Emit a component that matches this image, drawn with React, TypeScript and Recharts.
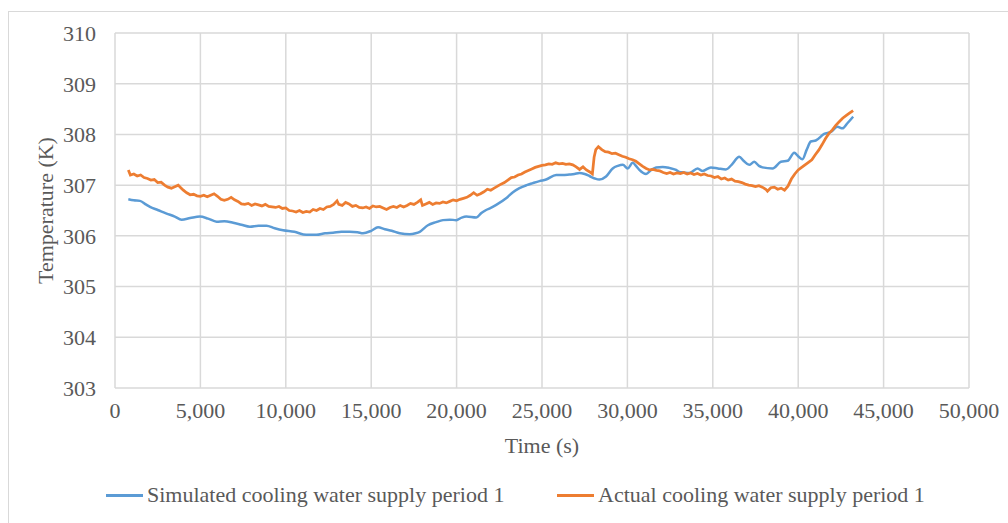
import { LineChart, Line, XAxis, YAxis, CartesianGrid, Legend, Label } from 'recharts';

// Simulated supply temperature (s, K)
const simTime = [
  780, 1100, 1460, 1800, 2050, 2500, 3020, 3500, 3900, 4400, 4970, 5450, 5950, 6400, 6920, 7400, 7900,
  8400, 8870, 9350, 9840, 10500, 11200, 11800, 12300, 12770, 13250, 13740, 14200, 14520, 15000, 15400,
  15800, 16200, 16670, 17250, 17600, 17840, 18320, 18800, 19200, 19600, 19980, 20300, 20570, 21150,
  21450, 21730, 22000, 22320, 22900, 23300, 23680, 24100, 24460, 24850, 25240, 25830, 26200, 26600,
  26900, 27190, 27500, 27780, 28100, 28360, 28750, 29140, 29440, 29730, 30020, 30310, 30500, 30700,
  31090, 31400, 31680, 32070, 32450, 32850, 33040, 33300, 33630, 34110, 34400, 34890, 35300, 35770,
  36100, 36550, 36800, 37130, 37430, 37700, 37910, 38500, 38990, 39380, 39770, 40000, 40250, 40500,
  40740, 41030, 41520, 41910, 42300, 42590, 42880, 43216,
];
const simTemp = [
  306.72, 306.7, 306.69, 306.62, 306.57, 306.51, 306.44, 306.38, 306.32, 306.35, 306.38, 306.34, 306.28,
  306.29, 306.26, 306.22, 306.18, 306.2, 306.2, 306.15, 306.11, 306.08, 306.02, 306.02, 306.05, 306.06,
  306.08, 306.08, 306.07, 306.05, 306.1, 306.17, 306.13, 306.1, 306.05, 306.03, 306.05, 306.08, 306.21,
  306.27, 306.31, 306.32, 306.31, 306.36, 306.38, 306.36, 306.45, 306.51, 306.55, 306.61, 306.74, 306.86,
  306.94, 307.0, 307.04, 307.08, 307.11, 307.2, 307.2, 307.21, 307.22, 307.24, 307.22, 307.18, 307.13,
  307.11, 307.17, 307.33, 307.38, 307.4, 307.33, 307.44, 307.38, 307.3, 307.22, 307.3, 307.35, 307.36,
  307.34, 307.3, 307.26, 307.25, 307.24, 307.33, 307.28, 307.35, 307.33, 307.31, 307.4, 307.56, 307.48,
  307.4, 307.46, 307.38, 307.35, 307.33, 307.46, 307.48, 307.64, 307.57, 307.51, 307.7, 307.86, 307.88,
  308.01, 308.05, 308.15, 308.12, 308.22, 308.35,
];

// Measured supply temperature (s, K)
const actTime = [
  780, 900, 1100, 1300, 1500, 1700, 1900, 2100, 2300, 2500, 2700, 2900, 3100, 3300, 3500, 3700, 3850,
  4000, 4200, 4400, 4600, 4800, 5000, 5200, 5400, 5600, 5800, 6000, 6200, 6400, 6600, 6800, 7000, 7200,
  7400, 7600, 7800, 8000, 8200, 8400, 8600, 8800, 9000, 9200, 9400, 9600, 9800, 10000, 10200, 10400,
  10600, 10800, 11000, 11200, 11400, 11600, 11800, 12000, 12200, 12400, 12600, 12800, 13000, 13100,
  13300, 13500, 13700, 13900, 14100, 14300, 14500, 14700, 14900, 15100, 15300, 15500, 15700, 15900,
  16100, 16300, 16500, 16700, 16900, 17100, 17300, 17500, 17700, 17900, 18000, 18200, 18400, 18600,
  18800, 19000, 19200, 19400, 19600, 19800, 20000, 20200, 20400, 20600, 20800, 21000, 21200, 21400,
  21600, 21800, 22000, 22200, 22400, 22600, 22800, 23000, 23200, 23400, 23600, 23800, 24000, 24200,
  24400, 24600, 24800, 25000, 25200, 25400, 25600, 25800, 26000, 26200, 26400, 26600, 26800, 27000,
  27200, 27400, 27600, 27800, 27950, 28050, 28150, 28300, 28500, 28700, 28900, 29100, 29300, 29500,
  29700, 29900, 30100, 30300, 30500, 30700, 30900, 31100, 31300, 31500, 31700, 31900, 32100, 32300,
  32500, 32700, 32900, 33100, 33300, 33500, 33700, 33900, 34100, 34300, 34500, 34700, 34900, 35100,
  35300, 35500, 35700, 35900, 36100, 36300, 36500, 36700, 36900, 37100, 37300, 37500, 37700, 37900,
  38100, 38200, 38400, 38600, 38800, 39000, 39200, 39400, 39600, 39800, 40000, 40200, 40400, 40600,
  40800, 41000, 41200, 41400, 41600, 41800, 42000, 42200, 42400, 42600, 42800, 43000, 43216,
];
const actTemp = [
  307.3, 307.2, 307.22, 307.18, 307.2, 307.15, 307.13, 307.1, 307.11, 307.05, 307.06, 307.0, 306.96,
  306.94, 306.97, 307.0, 306.95, 306.9, 306.85, 306.81, 306.82, 306.79, 306.78, 306.8, 306.77, 306.8,
  306.83, 306.78, 306.72, 306.7, 306.72, 306.76, 306.71, 306.68, 306.63, 306.62, 306.64, 306.6, 306.63,
  306.61, 306.59, 306.62, 306.58, 306.57, 306.56, 306.58, 306.54, 306.55, 306.5, 306.49, 306.47, 306.5,
  306.46, 306.48, 306.47, 306.52, 306.5, 306.54, 306.52, 306.57, 306.58, 306.62, 306.69, 306.62, 306.6,
  306.66, 306.63, 306.58, 306.6, 306.56, 306.55, 306.57, 306.54, 306.59, 306.57, 306.58, 306.55, 306.52,
  306.56, 306.58, 306.56, 306.6, 306.57, 306.6, 306.64, 306.62, 306.66, 306.71, 306.6, 306.63, 306.66,
  306.62, 306.65, 306.64, 306.67, 306.65, 306.68, 306.71, 306.69, 306.72, 306.74, 306.76, 306.8, 306.85,
  306.8, 306.83, 306.87, 306.92, 306.9, 306.94, 306.98, 307.02, 307.05, 307.1, 307.15, 307.16, 307.2,
  307.22, 307.26, 307.29, 307.32, 307.35, 307.37, 307.39, 307.4, 307.42, 307.41, 307.44, 307.42, 307.43,
  307.41, 307.42, 307.4, 307.36, 307.31, 307.36, 307.3, 307.26, 307.22, 307.55, 307.7, 307.76, 307.7,
  307.66, 307.65, 307.62, 307.63, 307.6, 307.57, 307.55, 307.52, 307.5, 307.47, 307.42, 307.37, 307.33,
  307.3, 307.31, 307.29, 307.28, 307.25, 307.23, 307.25, 307.22, 307.24, 307.23, 307.25, 307.22, 307.24,
  307.21, 307.23, 307.2, 307.22, 307.19, 307.18, 307.15, 307.17, 307.12, 307.14, 307.1, 307.12, 307.08,
  307.07, 307.05, 307.02, 307.0, 306.99, 306.97, 306.99, 306.96, 306.92, 306.88, 306.95, 306.96, 306.92,
  306.94, 306.9, 306.98, 307.12, 307.22, 307.3, 307.35, 307.4, 307.45, 307.5, 307.6, 307.69, 307.8,
  307.92, 308.02, 308.09, 308.18, 308.25, 308.32, 308.37, 308.42, 308.47,
];

const xTicks = [0, 5000, 10000, 15000, 20000, 25000, 30000, 35000, 40000, 45000, 50000];
const yTicks = [303, 304, 305, 306, 307, 308, 309, 310];

const simName = 'Simulated cooling water supply period 1';
const actName = 'Actual cooling water supply period 1';

const simData = simTime.map((t, i) => ({ t, v: simTemp[i] }));
const actData = actTime.map((t, i) => ({ t, v: actTemp[i] }));

const BLUE = '#5B9BD5';
const ORANGE = '#ED7D31';
const FONT = '"Liberation Serif", "Times New Roman", serif';
const TEXT = '#595959';
const FS = 22;

const fmt = (v: number) => v.toLocaleString('en-US');

function ChartLegend() {
  const items = [
    { name: simName, color: BLUE, left: 97 },
    { name: actName, color: ORANGE, left: 548 },
  ];
  return (
    <div style={{ position: 'relative', height: 30, fontFamily: FONT, fontSize: FS, color: TEXT }}>
      {items.map((it) => (
        <div
          key={it.name}
          style={{ position: 'absolute', left: it.left, top: 0, display: 'flex', alignItems: 'center', whiteSpace: 'nowrap' }}
        >
          <span style={{ display: 'inline-block', width: 37, height: 3, background: it.color, marginRight: 4 }} />
          <span>{it.name}</span>
        </div>
      ))}
    </div>
  );
}

export default function App() {
  return (
    <div
      style={{
        position: 'absolute',
        left: 8,
        top: 11,
        width: 1000,
        height: 512,
        boxSizing: 'border-box',
        borderTop: '1px solid #d9d9d9',
        borderLeft: '1px solid #d9d9d9',
        background: '#fff',
      }}
    >
      <LineChart width={999} height={511} margin={{ top: 21, right: 39, left: 0, bottom: 65 }}>
        <CartesianGrid stroke="#d9d9d9" strokeWidth={1.5} />
        <XAxis
          type="number"
          dataKey="t"
          domain={[0, 50000]}
          ticks={xTicks}
          tickFormatter={fmt}
          axisLine={false}
          tickLine={false}
          tickSize={0}
          tickMargin={14}
          height={70}
          tick={{ fill: TEXT, fontSize: FS, fontFamily: FONT }}
        >
          <Label value="Time (s)" position="insideBottom" offset={5} fill={TEXT} fontSize={FS} fontFamily={FONT} />
        </XAxis>
        <YAxis
          type="number"
          dataKey="v"
          domain={[303, 310]}
          ticks={yTicks}
          axisLine={false}
          tickLine={false}
          tickSize={0}
          tickMargin={19}
          width={106}
          tick={{ fill: TEXT, fontSize: FS, fontFamily: FONT }}
          label={{
            content: ({ viewBox }: any) => {
              const cx = 36;
              const cy = viewBox.y + viewBox.height / 2;
              return (
                <text
                  x={cx}
                  y={cy}
                  transform={`rotate(-90 ${cx} ${cy})`}
                  textAnchor="middle"
                  dominantBaseline="central"
                  fill={TEXT}
                  fontSize={FS}
                  fontFamily={FONT}
                >
                  Temperature (K)
                </text>
              );
            },
          }}
        />
        <Legend
          verticalAlign="middle"
          align="center"
          wrapperStyle={{ top: 470, left: 0, width: 999 }}
          content={() => <ChartLegend />}
        />
        <Line
          data={simData}
          dataKey="v"
          name={simName}
          type="monotone"
          stroke={BLUE}
          strokeWidth={2.5}
          dot={false}
          isAnimationActive={false}
        />
        <Line
          data={actData}
          dataKey="v"
          name={actName}
          type="linear"
          stroke={ORANGE}
          strokeWidth={2.75}
          dot={false}
          isAnimationActive={false}
        />
      </LineChart>
    </div>
  );
}
